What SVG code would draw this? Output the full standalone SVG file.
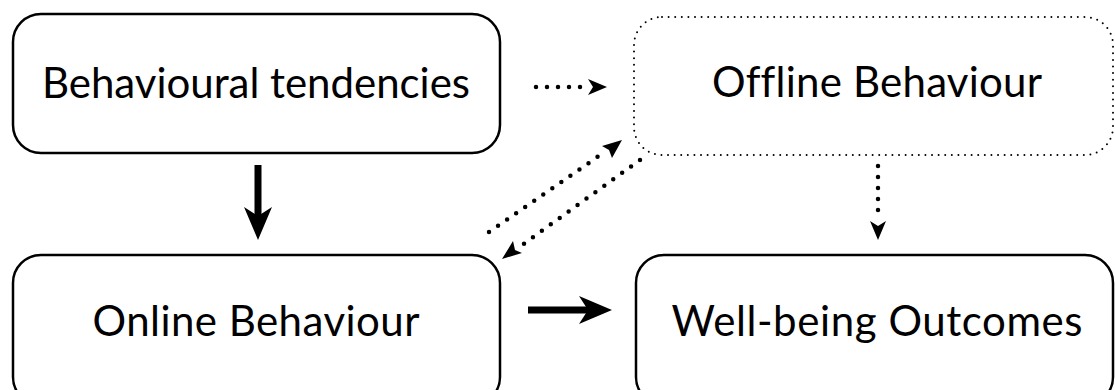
<svg xmlns="http://www.w3.org/2000/svg" width="1115" height="390" viewBox="0 0 1115 390">
<defs>
<style>
.box{fill:#fff;stroke:#000;stroke-width:2.5}
.dbox{fill:#fff;stroke:#000;stroke-width:2;stroke-dasharray:0 6.6;stroke-linecap:round}
.lbl{font-family:Lato,"Liberation Sans",sans-serif;font-size:42px;fill:#000;text-anchor:middle;font-variant-ligatures:none}
.solid{stroke:#000;stroke-width:7;fill:none}
.dot{stroke:#000;stroke-width:4.5;fill:none;stroke-dasharray:0 11;stroke-linecap:round}
</style>
</defs>
<g id="n_tendencies">
<rect class="box" x="13" y="14" width="487" height="139" rx="28"/>
<text class="lbl" x="256" y="98" textLength="428" lengthAdjust="spacing">Behavioural tendencies</text>
</g>
<g id="n_offline">
<rect class="dbox" x="634" y="17" width="479" height="138" rx="28"/>
<text class="lbl" x="877" y="97" textLength="330" lengthAdjust="spacing">Offline Behaviour</text>
</g>
<g id="n_online">
<rect class="box" x="13" y="255" width="487" height="150" rx="28"/>
<text class="lbl" x="256" y="336" textLength="327" lengthAdjust="spacing">Online Behaviour</text>
</g>
<g id="n_wellbeing">
<rect class="box" x="636" y="255" width="477" height="150" rx="28"/>
<text class="lbl" x="877" y="336" textLength="411" lengthAdjust="spacing">Well-being Outcomes</text>
</g>
<g id="connectors">
<line class="solid" x1="258" y1="165" x2="258" y2="222"/>
<path d="M258,240 L244,207 L258,216 L272,207 Z" fill="#000"/>
<line class="solid" x1="528" y1="310" x2="592" y2="310"/>
<path d="M612,310 L579,296 L588,310 L579,324 Z" fill="#000"/>
<line class="dot" x1="536" y1="87" x2="588" y2="87"/>
<path d="M607,87 L588,79 L593,87 L588,95 Z" fill="#000"/>
<line class="dot" x1="878" y1="166" x2="878" y2="220"/>
<path d="M878,240 L870,221 L878,226 L886,221 Z" fill="#000"/>
<line class="dot" x1="489" y1="232" x2="606" y2="151"/>
<path d="M622,140 L612,158 L609,150 L602,146 Z" fill="#000"/>
<line class="dot" x1="640" y1="160" x2="518" y2="248"/>
<path d="M502,259 L513,241 L515,250 L522,253 Z" fill="#000"/>
</g>
</svg>
